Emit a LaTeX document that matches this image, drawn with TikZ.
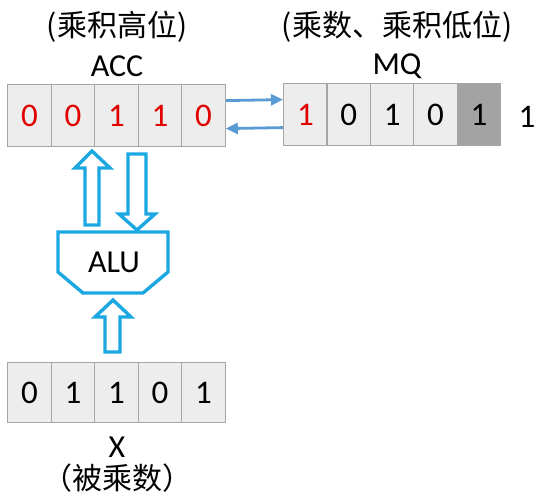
\documentclass[tikz,border=0pt]{standalone}
\usepackage{fontspec}
\setmainfont{Carlito}
\newfontfamily\cjk{Noto Sans CJK SC}
\usetikzlibrary{arrows.meta,calc}
\definecolor{cellfill}{HTML}{EDEDED}
\definecolor{cellline}{HTML}{A5A5A5}
\definecolor{darkcell}{HTML}{A3A3A3}
\definecolor{digred}{HTML}{E00000}
\definecolor{linkblue}{HTML}{5B9BD5}
\definecolor{alublue}{HTML}{1AA7E2}
\begin{document}
\begin{tikzpicture}[x=1pt,y=-1pt,
  cell/.style={draw=cellline, line width=1.2pt, fill=cellfill, minimum width=43.6pt, minimum height=62pt, inner sep=0pt, font=\fontsize{33}{34}\selectfont, anchor=north west},
  xcell/.style={cell, minimum height=60pt},
  red/.style={text=digred},
  title/.style={font=\cjk\fontsize{30}{32}\selectfont, inner sep=0pt},
  latin/.style={font=\fontsize{32}{34}\selectfont, inner sep=0pt},
  link/.style={draw=linkblue, line width=2.8pt, -{Triangle[length=12pt,width=11pt]}},
  hollow/.style={draw=alublue, line width=3.4pt, fill=white, line join=miter}]
\useasboundingbox (0,0) rectangle (551,500);
% titles
\node[title] (acct) at (117,27) {(乘积高位)};
\node[latin] (accn) at (117,66) {ACC};
\node[title] (mqt) at (397,27) {(乘数、乘积低位)};
\node[latin] (mqn) at (397,66) {MQ};
% ACC
\node[cell,red] (a1) at (7,84) {0};
\node[cell,red] (a2) at (50.5,84) {0};
\node[cell,red] (a3) at (94,84) {1};
\node[cell,red] (a4) at (137.5,84) {1};
\node[cell,red] (a5) at (181,84) {0};
% MQ
\node[cell,red] (m1) at (283,83) {1};
\node[cell] (m2) at (326.4,83) {0};
\node[cell] (m3) at (369.8,83) {1};
\node[cell] (m4) at (413.2,83) {0};
\node[cell,fill=darkcell] (m5) at (456.6,83) {1};
\node[latin,font=\fontsize{33}{34}\selectfont] (extra) at (527,117) {1};
% links
\draw[link] ($(a5.east)+(0,-15)$) -- ($(m1.west)+(0,-15)$);
\draw[link] ($(m1.west)+(0,13)$) -- ($(a5.east)+(0,13)$);
% hollow arrows and ALU
\draw[hollow] (85,225)--(85,168)--(75,168)--(92,151)--(110,168)--(99,168)--(99,225)--cycle;
\draw[hollow] (128,154)--(146,154)--(146,214)--(155,214)--(137,230)--(119,214)--(128,214)--cycle;
\draw[hollow] (58,232)--(168,232)--(168,272)--(143,293)--(83,293)--(58,272)--cycle;
\node[latin] (alu) at (114,262) {ALU};
\draw[hollow] (105,352)--(105,317)--(95,317)--(113,300)--(131,317)--(120,317)--(120,352)--cycle;
% X
\node[xcell] (x1) at (7,362) {0};
\node[xcell] (x2) at (50.5,362) {1};
\node[xcell] (x3) at (94,362) {1};
\node[xcell] (x4) at (137.5,362) {0};
\node[xcell] (x5) at (181,362) {1};
\node[latin] (xn) at (117,447) {X};
\node[title] (xt) at (117,478) {（被乘数）};
\end{tikzpicture}
\end{document}
